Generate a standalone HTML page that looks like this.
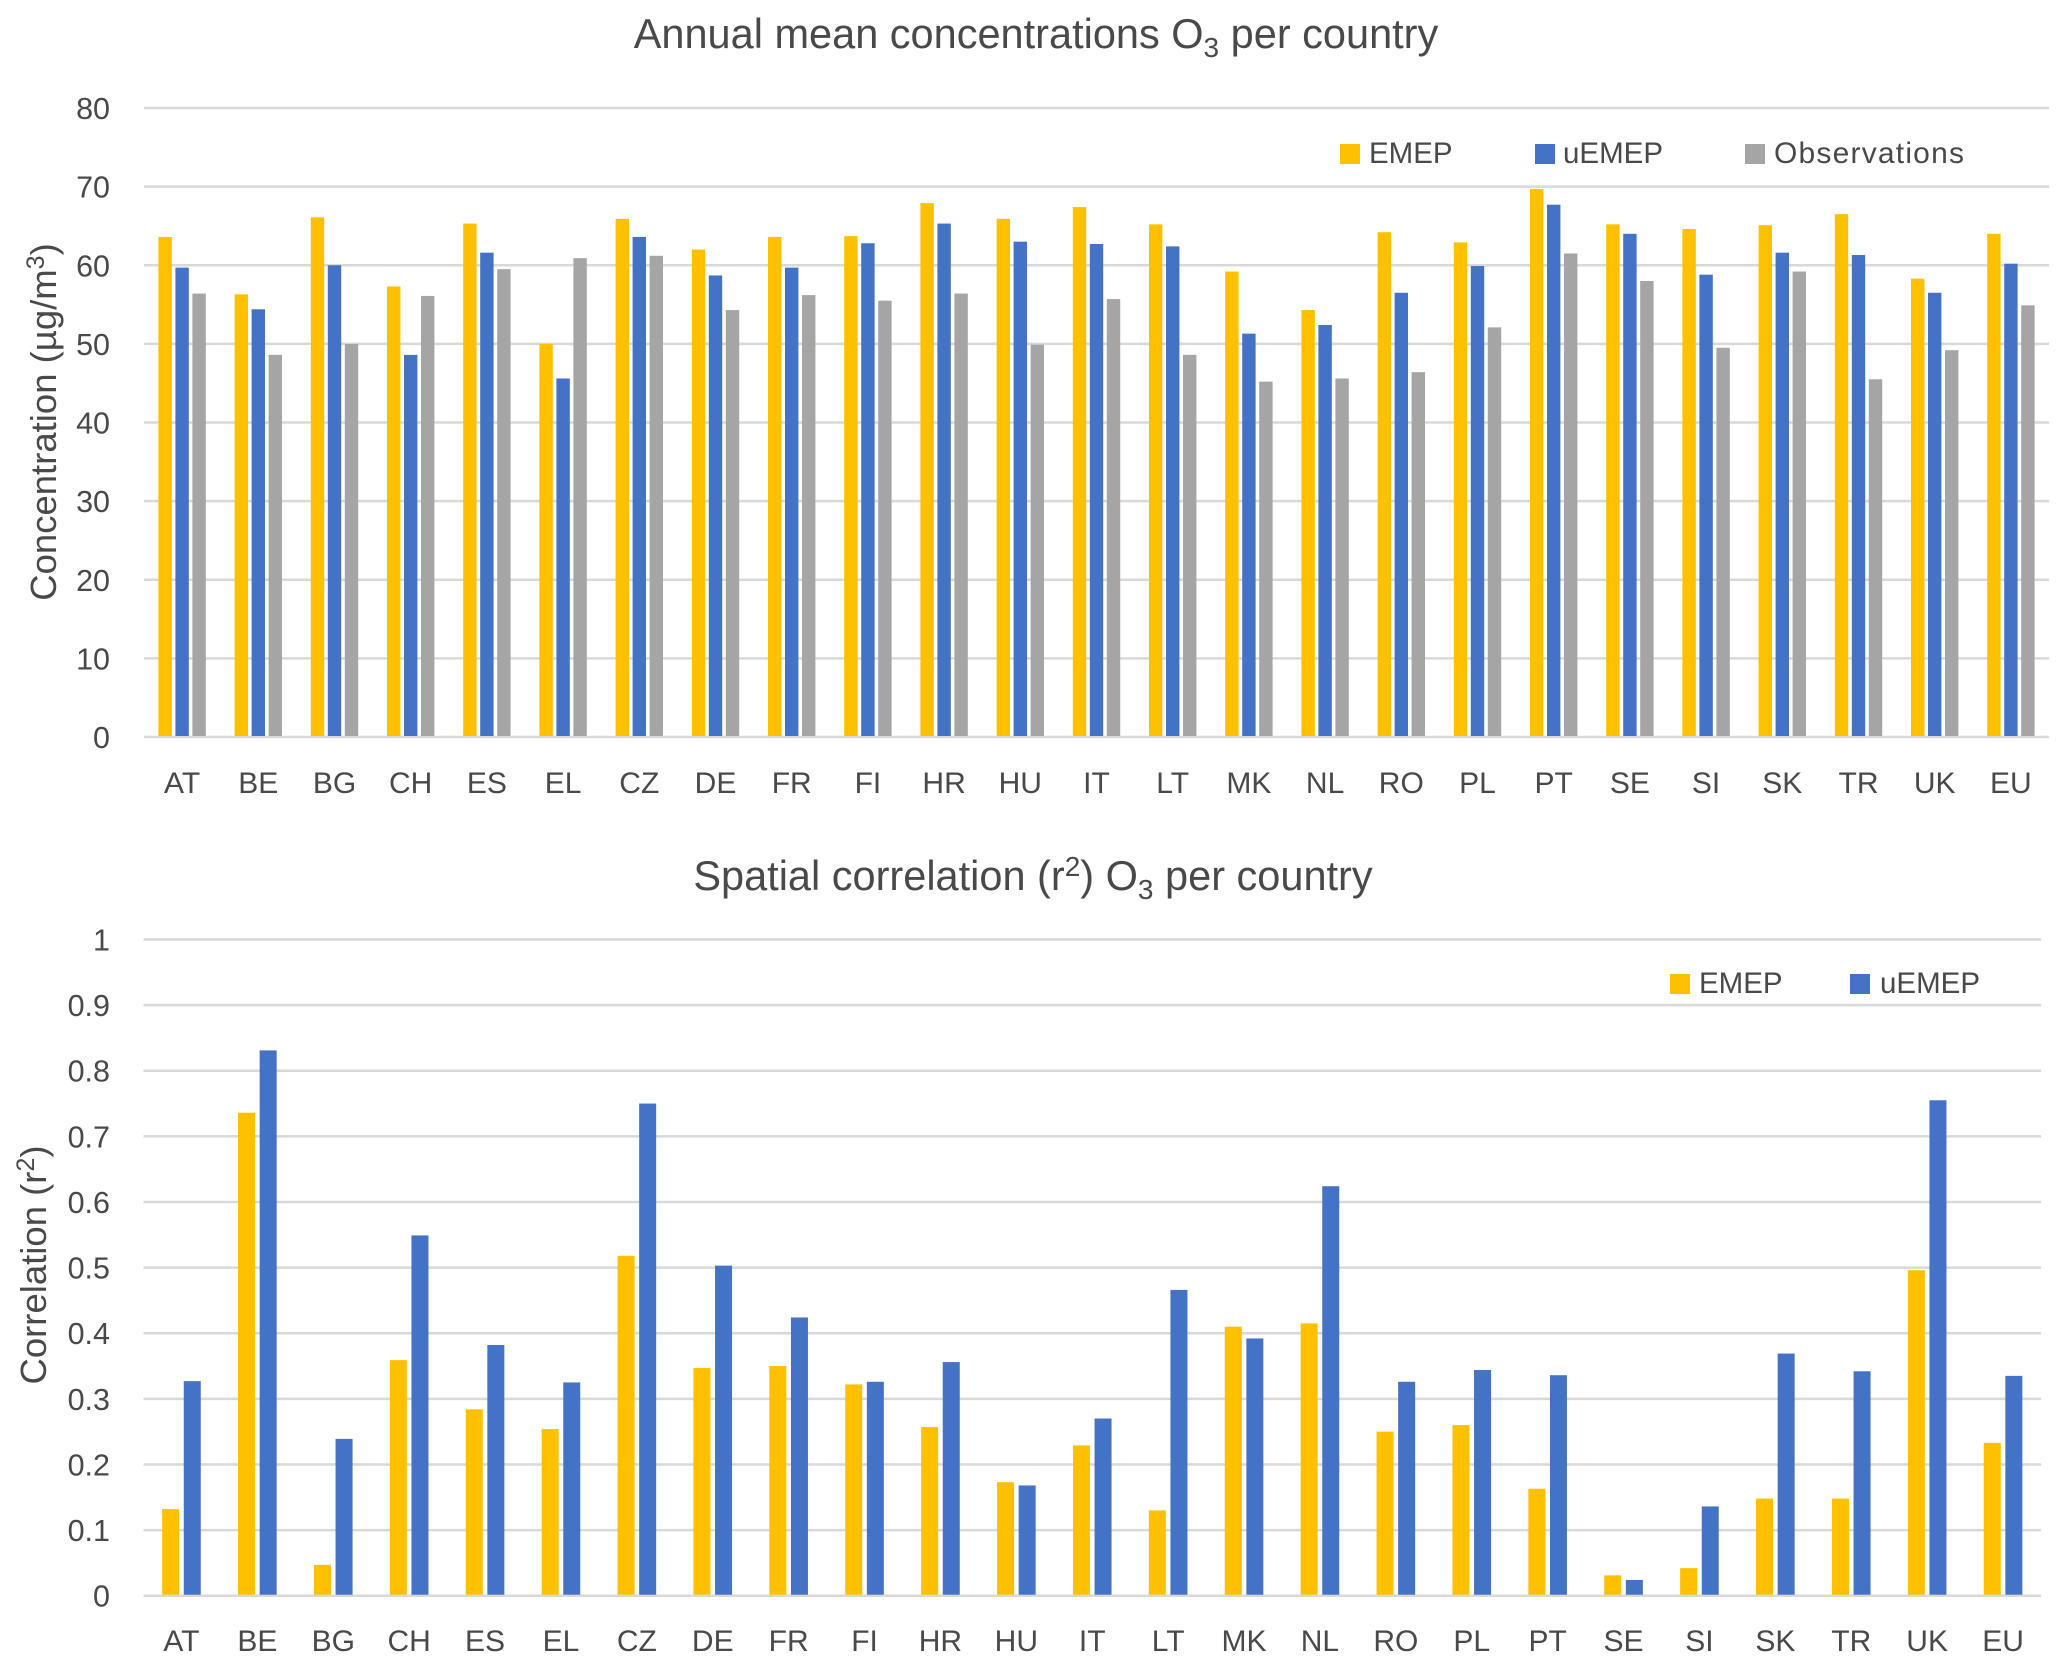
<!DOCTYPE html>
<html lang="en">
<head>
<meta charset="utf-8">
<title>O3 per country charts</title>
<style>
html,body{margin:0;padding:0;background:#fff;}
svg{display:block;}
text{font-family:"Liberation Sans",sans-serif;fill:#494949;}
</style>
</head>
<body>
<svg id="figure" xmlns="http://www.w3.org/2000/svg" width="2067" height="1670" viewBox="0 0 2067 1670">
  <rect width="2067" height="1670" fill="#fff"/>
  <text x="1036" y="48" font-size="41.5" text-anchor="middle">Annual mean concentrations O<tspan dy="9" font-size="28">3</tspan><tspan dy="-9"> per country</tspan></text>
  <text x="1033" y="890" font-size="41.5" text-anchor="middle">Spatial correlation (r<tspan dy="-14" font-size="28">2</tspan><tspan dy="14">) O</tspan><tspan dy="9" font-size="28">3</tspan><tspan dy="-9"> per country</tspan></text>
  <text transform="translate(56,422) rotate(-90)" font-size="36.5" text-anchor="middle">Concentration (µg/m<tspan dy="-12" font-size="25">3</tspan><tspan dy="12">)</tspan></text>
  <text transform="translate(46,1265) rotate(-90)" font-size="36.5" text-anchor="middle">Correlation (r<tspan dy="-12" font-size="25">2</tspan><tspan dy="12">)</tspan></text>
  <g id="top-chart"></g>
  <g id="bottom-chart"></g>
  <g>
    <g><rect x="1340" y="144" width="20" height="20" fill="#FFC000"/><text x="1369" y="163" font-size="29.5">EMEP</text></g>
    <g><rect x="1535" y="144" width="20" height="20" fill="#4472C4"/><text x="1563" y="163" font-size="29.5">uEMEP</text></g>
    <g><rect x="1745" y="144" width="20" height="20" fill="#A5A5A5"/><text x="1774" y="163" font-size="30" letter-spacing="1.2">Observations</text></g>
  </g>
  <g>
    <g><rect x="1670" y="974" width="20" height="20" fill="#FFC000"/><text x="1699" y="993" font-size="29.5">EMEP</text></g>
    <g><rect x="1850" y="974" width="20" height="20" fill="#4472C4"/><text x="1880" y="993" font-size="29.5">uEMEP</text></g>
  </g>
</svg>
<script>
const categories = ["AT","BE","BG","CH","ES","EL","CZ","DE","FR","FI","HR","HU","IT","LT","MK","NL","RO","PL","PT","SE","SI","SK","TR","UK","EU"];

const concEmep = [63.6,56.3,66.1,57.3,65.3,50.0,65.9,62.0,63.6,63.7,67.9,65.9,67.4,65.2,59.2,54.3,64.2,62.9,69.7,65.2,64.6,65.1,66.5,58.3,64.0];
const concUemep = [59.7,54.4,60.0,48.6,61.6,45.6,63.6,58.7,59.7,62.8,65.3,63.0,62.7,62.4,51.3,52.4,56.5,59.9,67.7,64.0,58.8,61.6,61.3,56.5,60.2];
const concObservations = [56.4,48.6,50.0,56.1,59.5,60.9,61.2,54.3,56.2,55.5,56.4,49.9,55.7,48.6,45.2,45.6,46.4,52.1,61.5,58.0,49.5,59.2,45.5,49.2,54.9];

const corrEmep = [0.132,0.736,0.047,0.359,0.284,0.254,0.518,0.347,0.350,0.322,0.257,0.173,0.229,0.130,0.410,0.415,0.250,0.260,0.163,0.031,0.042,0.148,0.148,0.496,0.233];
const corrUemep = [0.327,0.831,0.239,0.549,0.382,0.325,0.750,0.503,0.424,0.326,0.356,0.168,0.270,0.466,0.392,0.624,0.326,0.344,0.336,0.024,0.136,0.369,0.342,0.755,0.335];

const concTicks = [0,10,20,30,40,50,60,70,80];
const corrTicks = [0,0.1,0.2,0.3,0.4,0.5,0.6,0.7,0.8,0.9,1];

const SVG_NS = "http://www.w3.org/2000/svg";
const EMEP_COLOR = "#FFC000";
const UEMEP_COLOR = "#4472C4";
const OBS_COLOR = "#A5A5A5";

function drawChart(cfg) {
  const root = document.getElementById(cfg.id);
  const yMax = cfg.ticks[cfg.ticks.length - 1];
  const yScale = function (v) { return cfg.y0 - (v / yMax) * (cfg.y0 - cfg.y1); };
  const pitch = (cfg.x1 - cfg.x0) / categories.length;
  const xCenter = function (i) { return cfg.x0 + pitch * (i + 0.5); };
  const groupWidth = cfg.series.length * cfg.barW + (cfg.series.length - 1) * cfg.gap;

  cfg.ticks.forEach(function (t) {
    const line = document.createElementNS(SVG_NS, "line");
    
    
    line.setAttribute("x1", cfg.x0);
    line.setAttribute("x2", cfg.x1);
    line.setAttribute("y1", yScale(t));
    line.setAttribute("y2", yScale(t));
    line.setAttribute("stroke", "#D9D9D9");
    line.setAttribute("stroke-width", "2.5");
    root.appendChild(line);

    const label = document.createElementNS(SVG_NS, "text");
    
    
    label.setAttribute("x", 110);
    label.setAttribute("y", yScale(t) + 11);
    label.setAttribute("font-size", "30.5");
    label.setAttribute("text-anchor", "end");
    label.textContent = String(t);
    root.appendChild(label);
  });

  categories.forEach(function (c, i) {
    const label = document.createElementNS(SVG_NS, "text");
    
    
    label.setAttribute("x", xCenter(i));
    label.setAttribute("y", cfg.labelY);
    label.setAttribute("font-size", "30");
    label.setAttribute("text-anchor", "middle");
    label.textContent = c;
    root.appendChild(label);

    cfg.series.forEach(function (s, k) {
      const bar = document.createElementNS(SVG_NS, "rect");
      
      
      const v = s.values[i];
      bar.setAttribute("x", xCenter(i) - groupWidth / 2 + k * (cfg.barW + cfg.gap));
      bar.setAttribute("y", yScale(v));
      bar.setAttribute("width", cfg.barW);
      bar.setAttribute("height", Math.max(0, yScale(0) - yScale(v) - 1));
      bar.setAttribute("fill", s.color);
      root.appendChild(bar);
    });
  });
}

drawChart({
  id: "top-chart", x0: 144, x1: 2049, y0: 737, y1: 108,
  barW: 13.4, gap: 3.6, labelY: 793, ticks: concTicks,
  series: [
    { values: concEmep, color: EMEP_COLOR },
    { values: concUemep, color: UEMEP_COLOR },
    { values: concObservations, color: OBS_COLOR }
  ]
});

drawChart({
  id: "bottom-chart", x0: 143.5, x1: 2041, y0: 1595.7, y1: 939.5,
  barW: 17, gap: 4.6, labelY: 1651, ticks: corrTicks,
  series: [
    { values: corrEmep, color: EMEP_COLOR },
    { values: corrUemep, color: UEMEP_COLOR }
  ]
});
</script>
</body>
</html>
